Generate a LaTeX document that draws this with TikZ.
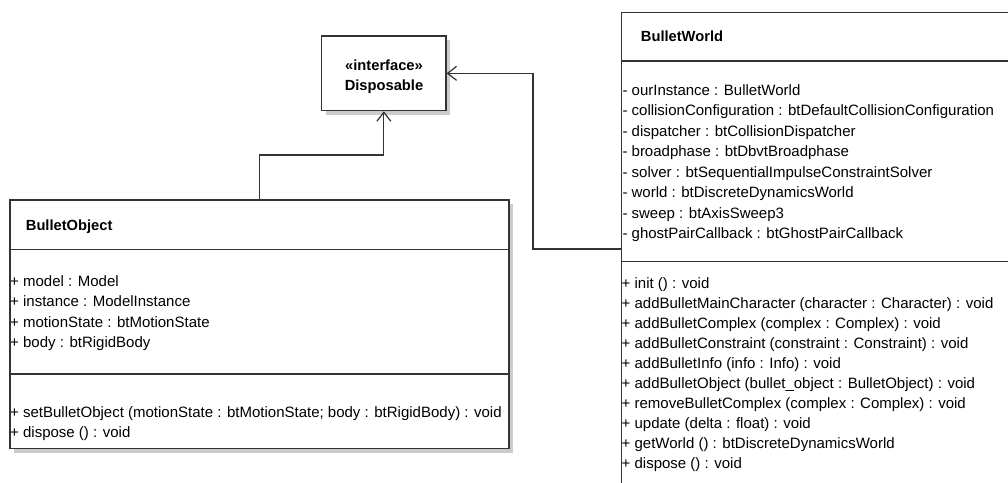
\documentclass[tikz,border=0pt]{standalone}
\usepackage{fontspec}
\setmainfont{Liberation Sans}
\usetikzlibrary{arrows.meta,shadows}
\begin{document}
\begin{tikzpicture}[x=1pt,y=-1pt,
  box/.style={draw=black!80, line width=1.2pt, fill=white, rectangle, inner sep=0pt,
    drop shadow={shadow xshift=4pt, shadow yshift=-4pt, fill=black!20, opacity=1}},
  sep/.style={draw=black!80, line width=1.2pt},
  conn/.style={draw=black!80, line width=1.2pt, -{Straight Barb[length=9pt,width=14pt]}},
  row/.style={anchor=base west, inner sep=0pt, font=\fontsize{15}{18}\selectfont},
  title/.style={anchor=base west, inner sep=0pt, font=\fontsize{14.7}{18}\selectfont\bfseries},
  stereo/.style={anchor=base, inner sep=0pt, font=\fontsize{14.7}{18}\selectfont\bfseries}]
\useasboundingbox (0,0) rectangle (1008,482);
\begin{scope}
\clip (0,0) rectangle (1008,482);
% Disposable
\node[box, minimum width=124.3pt, minimum height=74.7pt] (disp) at (383.85,73.35) {};
\node[stereo] (dispst) at (384,70.5) {«interface»};
\node[stereo] (dispname) at (384,90.5) {Disposable};
% BulletObject
\node[box, anchor=north west, minimum width=499pt, minimum height=248.7pt] (bo) at (9.3,199.3) {};
\draw[sep] ([yshift=-50pt]bo.north west) -- ([yshift=-50pt]bo.north east);
\draw[sep] ([yshift=-174.7pt]bo.north west) -- ([yshift=-174.7pt]bo.north east);
\node[title] (botitle) at (25.7,230.5) {BulletObject};
\foreach \t [count=\i] in {{+ model : Model},{+ instance : ModelInstance},{+ motionState : btMotionState},{+ body : btRigidBody}}
  \node[row] (boa\i) at (10,286.5+20.4*\i-20.4) {\t};
\foreach \t [count=\i] in {{+ setBulletObject (motionState : btMotionState; body : btRigidBody) : void},{+ dispose () : void}}
  \node[row] (bom\i) at (10,417.2+20.6*\i-20.6) {\t};
% BulletWorld
\node[box, anchor=north west, minimum width=420pt, minimum height=520pt] (bw) at (620.7,11.7) {};
\draw[sep] ([yshift=-49.3pt]bw.north west) -- ([yshift=-49.3pt]bw.north east);
\draw[sep] ([yshift=-250pt]bw.north west) -- ([yshift=-250pt]bw.north east);
\node[title] (bwtitle) at (640.7,41.5) {BulletWorld};
\foreach \t [count=\i] in {{- ourInstance : BulletWorld},{- collisionConfiguration : btDefaultCollisionConfiguration},{- dispatcher : btCollisionDispatcher},{- broadphase : btDbvtBroadphase},{- solver : btSequentialImpulseConstraintSolver},{- world : btDiscreteDynamicsWorld},{- sweep : btAxisSweep3},{- ghostPairCallback : btGhostPairCallback}}
  \node[row] (bwa\i) at (622.3,95.5+20.47*\i-20.47) {\t};
\foreach \t [count=\i] in {{+ init () : void},{+ addBulletMainCharacter (character : Character) : void},{+ addBulletComplex (complex : Complex) : void},{+ addBulletConstraint (constraint : Constraint) : void},{+ addBulletInfo (info : Info) : void},{+ addBulletObject (bullet\_object : BulletObject) : void},{+ removeBulletComplex (complex : Complex) : void},{+ update (delta : float) : void},{+ getWorld () : btDiscreteDynamicsWorld},{+ dispose () : void}}
  \node[row] (bwm\i) at (621.5,288.8+20*\i-20) {\t};
% connectors
\draw[conn] (bo.north) -- ++(0,-44.3) -| (disp.south);
\draw[conn] ([yshift=-237.3pt]bw.north west) -- ++(-87.7,0) |- (disp.east);
\end{scope}
\end{tikzpicture}
\end{document}
